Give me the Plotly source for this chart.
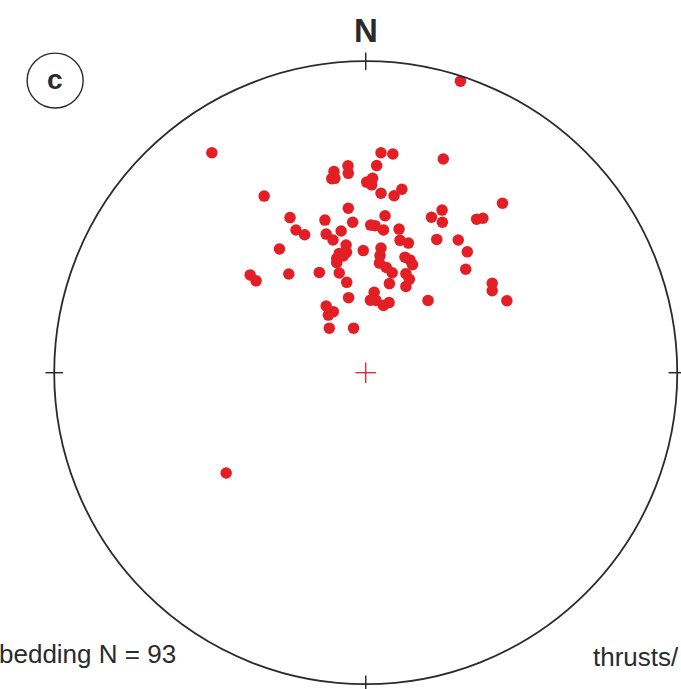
import plotly.graph_objects as go

# Poles to bedding, projected coordinates (east, north) in units of primitive-circle radius
east = [-0.494, 0.049, 0.087, 0.249, -0.057, 0.035, -0.102, -0.056, -0.109, -0.099,
        0.022, 0.003, 0.019, 0.049, 0.116, 0.091, -0.326, 0.439, -0.056, 0.245,
        -0.243, -0.131, -0.042, 0.062, 0.211, 0.246, 0.356, 0.376, 0.016, 0.030,
        0.057, 0.107, -0.224, -0.196, -0.127, -0.079, -0.105, 0.110, 0.137, 0.228,
        0.297, -0.063, 0.049, -0.277, -0.008, 0.326, -0.085, -0.062, 0.046, 0.126,
        0.142, -0.093, -0.072, 0.150, -0.093, 0.044, 0.066, 0.085, 0.321, -0.371,
        -0.352, -0.247, -0.149, -0.085, 0.129, 0.140, 0.076, -0.061, 0.129, 0.406,
        0.406, 0.027, -0.055, 0.015, 0.033, 0.057, 0.075, 0.200, 0.453, -0.127,
        -0.120, -0.104, -0.117, -0.039, 0.304, -0.448]
north = [0.706, 0.706, 0.702, 0.686, 0.664, 0.665, 0.646, 0.640, 0.623, 0.624,
         0.624, 0.612, 0.603, 0.576, 0.589, 0.568, 0.567, 0.544, 0.528, 0.522,
         0.498, 0.490, 0.483, 0.504, 0.499, 0.483, 0.493, 0.496, 0.474, 0.472,
         0.458, 0.461, 0.458, 0.443, 0.445, 0.455, 0.426, 0.425, 0.416, 0.428,
         0.426, 0.410, 0.400, 0.397, 0.392, 0.388, 0.383, 0.387, 0.376, 0.371,
         0.362, 0.367, 0.375, 0.347, 0.353, 0.352, 0.338, 0.321, 0.332, 0.314,
         0.295, 0.317, 0.322, 0.320, 0.318, 0.300, 0.286, 0.290, 0.277, 0.287,
         0.263, 0.258, 0.241, 0.233, 0.232, 0.216, 0.225, 0.232, 0.231, 0.214,
         0.185, 0.196, 0.143, 0.143, 0.936, -0.322]

label_main = "bedding N = 93"
label_right = "thrusts/"
panel = "c"
north_label = "N"

RED = "#e31e24"
DARK = "#2b2b2b"
FONT = "Liberation Sans, Arial, Helvetica, sans-serif"

fig = go.Figure()
fig.add_trace(go.Scatter(
    x=east, y=north, mode="markers",
    marker=dict(color=RED, size=11.5, line=dict(width=0)),
    hoverinfo="skip", showlegend=False, cliponaxis=False))

shapes = []
# primitive circle
shapes.append(dict(type="circle", xref="x", yref="y", x0=-1, x1=1, y0=-1, y1=1,
                   line=dict(color=DARK, width=1.8)))
# cardinal ticks
t = 0.028
for (xa, ya, xb, yb) in [(0, 1 - t, 0, 1 + t), (0, -1 - t, 0, -1 + t),
                         (-1 - t, 0, -1 + t, 0), (1 - t, 0, 1 + t, 0)]:
    shapes.append(dict(type="line", xref="x", yref="y", x0=xa, y0=ya, x1=xb, y1=yb,
                       line=dict(color=DARK, width=1.5)))
# centre cross
c = 0.033
shapes.append(dict(type="line", xref="x", yref="y", x0=-c, x1=c, y0=0, y1=0,
                   line=dict(color=RED, width=1.3)))
shapes.append(dict(type="line", xref="x", yref="y", x0=0, x1=0, y0=-c, y1=c,
                   line=dict(color=RED, width=1.3)))
# panel-label circle
shapes.append(dict(type="circle", xref="x", yref="y", x0=-0.997 - 0.09, x1=-0.997 + 0.09,
                   y0=0.938 - 0.088, y1=0.938 + 0.088, line=dict(color=DARK, width=1.4)))

annotations = [
    dict(x=0, y=1.10, xref="x", yref="y", text=f"<b>{north_label}</b>", showarrow=False,
         font=dict(family=FONT, size=33, color=DARK),
         xanchor="center", yanchor="middle"),
    dict(x=-0.997, y=0.940, xref="x", yref="y", text=f"<b>{panel}</b>", showarrow=False,
         font=dict(family=FONT, size=28, color=DARK),
         xanchor="center", yanchor="middle"),
    dict(x=-0.004, y=1 - 654 / 689, xref="paper", yref="paper", text=label_main,
         showarrow=False, font=dict(family=FONT, size=26, color=DARK),
         xanchor="left", yanchor="middle"),
    dict(x=1.0, y=1 - 657 / 689, xref="paper", yref="paper", text=label_right,
         showarrow=False, font=dict(family=FONT, size=26, color=DARK),
         xanchor="right", yanchor="middle"),
]

fig.update_layout(
    width=681, height=689, margin=dict(l=0, r=0, t=0, b=0),
    paper_bgcolor="white", plot_bgcolor="white",
    xaxis=dict(range=[-1.174, 1.012], visible=False, fixedrange=True),
    yaxis=dict(range=[-1.0154, 1.1965], visible=False, fixedrange=True),
    shapes=shapes, annotations=annotations, showlegend=False,
)

fig.write_html("out.html", config={"displayModeBar": False},
               post_script="document.body.style.margin='0';document.body.style.overflow='hidden';")
